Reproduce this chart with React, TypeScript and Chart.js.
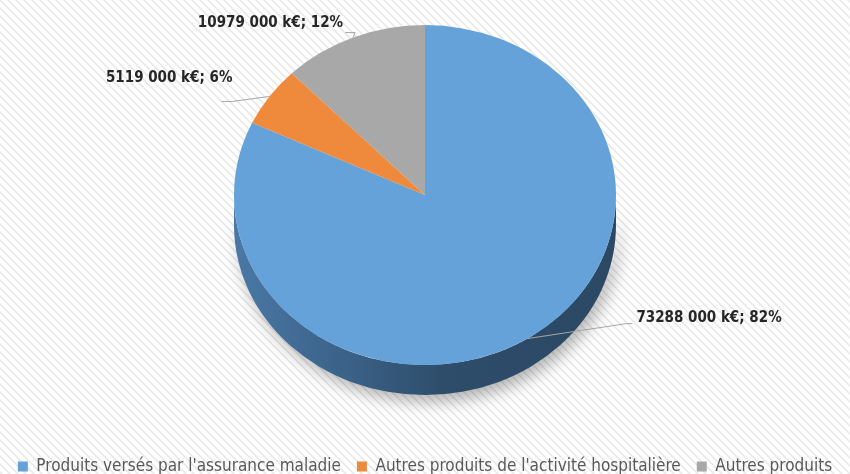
import React, { useEffect, useRef } from "react";
import { Chart, registerables } from "chart.js";

Chart.register(...registerables);

const categories = [
  "Produits versés par l'assurance maladie",
  "Autres produits de l'activité hospitalière",
  "Autres produits",
];
const values = [73288000, 5119000, 10979000];
const colors = ["#64a2d9", "#ef8a3c", "#a8a8a8"];

const FONT = "'DejaVu Sans Condensed', 'Liberation Sans Narrow', sans-serif";
const Y_SCALE = 0.89;
const DEPTH = 30;
const PIE_RADIUS = 191;
// leader-line / label placement relative to slice anchor (dx, dy)
const labelPlacement = [
  { elbow: [99, -15], end: [105, -15], text: [109, -20], align: "left" },
  { elbow: [-37, 5], end: [-48, 5], text: [-37, -18], align: "right" },
  { elbow: [2, -5], end: [-8, -5], text: [-10, -14], align: "right" },
];

function formatValue(v: number) {
  const k = Math.floor(v / 1000);
  const r = String(v % 1000).padStart(3, "0");
  return `${k} ${r} k€`;
}

const pie3d = {
  id: "pie3d",
  beforeDraw(chart: any) {
    const ctx = chart.ctx;
    const tile = document.createElement("canvas");
    tile.width = 8;
    tile.height = 8;
    const t = tile.getContext("2d")!;
    t.fillStyle = "#ffffff";
    t.fillRect(0, 0, 8, 8);
    t.strokeStyle = "#e9e9e9";
    t.lineWidth = 1.6;
    t.beginPath();
    t.moveTo(-2, -2);
    t.lineTo(10, 10);
    t.moveTo(-2, 6);
    t.lineTo(2, 10);
    t.moveTo(6, -2);
    t.lineTo(10, 2);
    t.stroke();
    const pat = ctx.createPattern(tile, "repeat");
    ctx.save();
    ctx.fillStyle = pat;
    ctx.fillRect(0, 0, chart.width, chart.height);
    ctx.restore();
  },
  beforeDatasetsDraw(chart: any) {
    const arc = chart.getDatasetMeta(0).data[0];
    const { x, y, outerRadius } = arc;
    const ctx = chart.ctx;
    const rx = outerRadius;
    const ry = outerRadius * Y_SCALE;
    ctx.save();
    ctx.save();
    ctx.shadowColor = "rgba(0,0,0,0.3)";
    ctx.shadowBlur = 16;
    ctx.shadowOffsetX = 4;
    ctx.shadowOffsetY = 7;
    ctx.beginPath();
    ctx.ellipse(x, y, rx, ry, 0, 0, Math.PI, false);
    ctx.lineTo(x - rx, y + DEPTH);
    ctx.ellipse(x, y + DEPTH, rx, ry, 0, Math.PI, 0, true);
    ctx.closePath();
    const g = ctx.createLinearGradient(x - rx, 0, x + rx, 0);
    g.addColorStop(0, "#4a78a6");
    g.addColorStop(0.3, "#3a6187");
    g.addColorStop(0.55, "#2e4d6b");
    g.addColorStop(1, "#2b4864");
    ctx.fillStyle = g;
    ctx.fill();
    ctx.restore();
    ctx.translate(x, y);
    ctx.scale(1, Y_SCALE);
    ctx.translate(-x, -y);
  },
  afterDatasetsDraw(chart: any) {
    const ctx = chart.ctx;
    ctx.restore();
    const meta = chart.getDatasetMeta(0);
    const total = values.reduce((a, b) => a + b, 0);
    ctx.save();
    meta.data.forEach((arc: any, i: number) => {
      const mid = (arc.startAngle + arc.endAngle) / 2;
      const ax = arc.x + Math.cos(mid) * arc.outerRadius;
      const ay = arc.y + Math.sin(mid) * arc.outerRadius * Y_SCALE;
      const p = labelPlacement[i];
      ctx.strokeStyle = "#a6a6a6";
      ctx.lineWidth = 1;
      ctx.beginPath();
      ctx.moveTo(ax, ay);
      ctx.lineTo(ax + p.elbow[0], ay + p.elbow[1]);
      ctx.lineTo(ax + p.end[0], ay + p.end[1]);
      ctx.stroke();
      const pct = Math.round((values[i] / total) * 100);
      ctx.fillStyle = "#262626";
      ctx.font = `bold 15px ${FONT}`;
      ctx.textAlign = p.align;
      ctx.textBaseline = "middle";
      ctx.fillText(`${formatValue(values[i])}; ${pct}%`, ax + p.text[0], ay + p.text[1]);
    });
    ctx.restore();
  },
};

export default function App() {
  const ref = useRef<HTMLCanvasElement>(null);
  useEffect(() => {
    document.body.style.margin = "0";
    const chart = new Chart(ref.current!, {
      type: "pie",
      data: {
        labels: categories,
        datasets: [
          {
            data: values,
            backgroundColor: colors,
            borderWidth: 0,
            radius: PIE_RADIUS,
          },
        ],
      },
      options: {
        animation: false,
        responsive: true,
        maintainAspectRatio: false,
        layout: { padding: { top: 0, bottom: -11, left: 0, right: 0 } },
        plugins: {
          tooltip: { enabled: false },
          legend: {
            position: "bottom",
            title: { display: true, text: "", padding: { top: 47, bottom: 0 }, font: { size: 4 } },
            labels: {
              boxWidth: 10,
              boxHeight: 10,
              padding: 16,
              color: "#595959",
              font: { family: FONT, size: 17 },
            },
          },
        },
      },
      plugins: [pie3d],
    });
    return () => chart.destroy();
  }, []);
  return (
    <div style={{ width: 850, height: 474, position: "relative" }}>
      <canvas ref={ref} />
    </div>
  );
}
